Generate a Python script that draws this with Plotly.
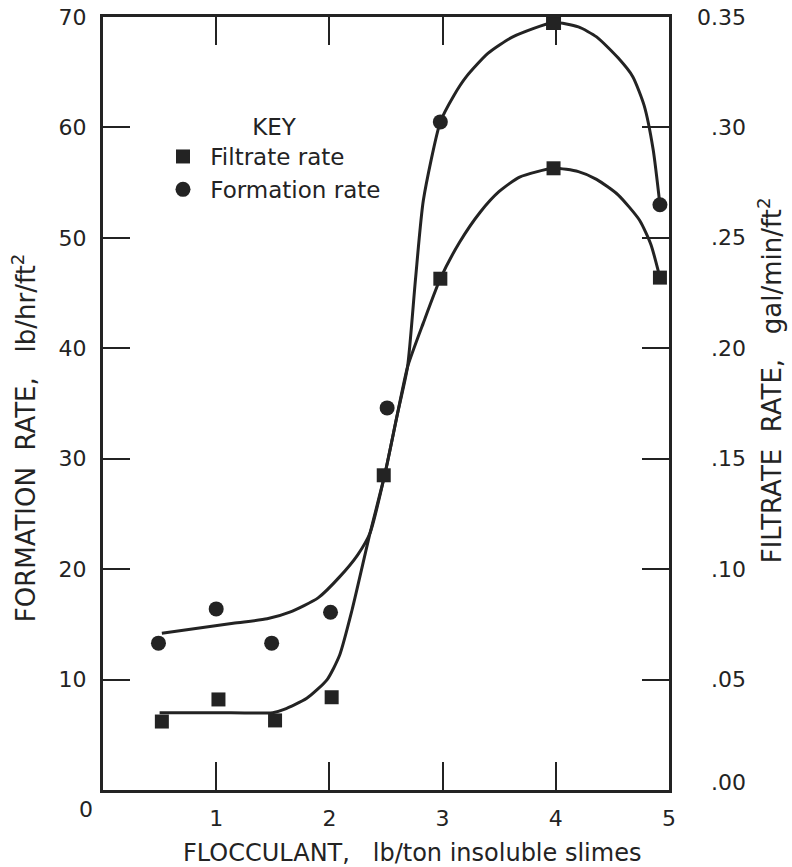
import plotly.graph_objects as go

# ---- data ----
flocculant_filtrate = [0.52, 1.02, 1.52, 2.02, 2.48, 2.98, 3.98, 4.92]
filtrate_rate = [6.2, 8.2, 6.3, 8.4, 28.5, 46.3, 56.3, 46.4]          # in left-axis units (x200 -> gal/min/ft2)

flocculant_formation = [0.49, 1.0, 1.49, 2.01, 2.51, 2.98, 3.98, 4.92]
formation_rate = [13.3, 16.4, 13.3, 16.1, 34.6, 60.5, 69.5, 53.0]
formation_symbols = ["circle", "circle", "circle", "circle", "circle", "circle", "square", "circle"]

# hand-drawn smooth curves
filtrate_curve_x = [0.5, 1.0, 1.5, 1.6, 1.8, 1.98, 2.09, 2.2, 2.36, 2.49, 2.6, 2.69, 2.83, 2.98, 3.15, 3.33, 3.5, 3.68, 3.98, 4.2, 4.36, 4.55, 4.74, 4.84, 4.92]
filtrate_curve_y = [7.0, 7.0, 7.0, 7.3, 8.3, 10.0, 12.2, 16.3, 23.3, 28.6, 34.0, 38.3, 42.3, 46.3, 49.6, 52.3, 54.2, 55.5, 56.3, 56.0, 55.3, 53.9, 51.6, 49.4, 46.4]

formation_curve_x = [0.52, 1.15, 1.45, 1.65, 1.9, 2.09, 2.25, 2.36, 2.49, 2.6, 2.69, 2.76, 2.83, 2.98, 3.1, 3.21, 3.4, 3.62, 3.98, 4.2, 4.36, 4.55, 4.68, 4.78, 4.86, 4.92]
formation_curve_y = [14.2, 15.1, 15.5, 16.1, 17.4, 19.3, 21.3, 23.3, 28.6, 34.0, 38.3, 46.2, 53.4, 60.5, 62.9, 64.6, 66.7, 68.2, 69.5, 69.1, 68.2, 66.3, 64.6, 62.0, 58.0, 53.0]

x_tick_vals = [1, 2, 3, 4, 5]
x_tick_text = ["1", "2", "3", "4", "5"]
left_tick_vals = [10, 20, 30, 40, 50, 60, 70]
left_tick_text = ["10", "20", "30", "40", "50", "60", "70"]
right_tick_vals = [0.00, 0.05, 0.10, 0.15, 0.20, 0.25, 0.30, 0.35]
right_tick_text = [".00", ".05", ".10", ".15", ".20", ".25", ".30", "0.35"]

INK = "#232323"
FONT = "DejaVu Sans"

fig = go.Figure()

fig.add_trace(go.Scatter(x=filtrate_curve_x, y=filtrate_curve_y, mode="lines",
                         line=dict(color=INK, width=3, shape="spline", smoothing=0.6),
                         showlegend=False, hoverinfo="skip"))
fig.add_trace(go.Scatter(x=formation_curve_x, y=formation_curve_y, mode="lines",
                         line=dict(color=INK, width=3, shape="spline", smoothing=0.6),
                         showlegend=False, hoverinfo="skip"))

fig.add_trace(go.Scatter(x=flocculant_filtrate, y=filtrate_rate, mode="markers",
                         name=" Filtrate rate",
                         marker=dict(symbol="square", size=14, color=INK)))
fig.add_trace(go.Scatter(x=flocculant_formation, y=formation_rate, mode="markers",
                         name=" Formation rate",
                         marker=dict(symbol=formation_symbols, size=15, color=INK)))

# invisible trace on the right axis so that it is drawn
fig.add_trace(go.Scatter(x=[0], y=[0], yaxis="y2", mode="markers",
                         marker=dict(opacity=0), showlegend=False, hoverinfo="skip"))

annotations = []
# right axis labels, right aligned
for v, t in zip(right_tick_vals, right_tick_text):
    annotations.append(dict(x=1, xref="paper", xshift=79, y=v, yref="y2",
                            yshift=8 if v == 0 else 0,
                            text=t, showarrow=False, xanchor="right", yanchor="middle",
                            font=dict(family=FONT, size=22, color=INK)))
# "0" at the origin
annotations.append(dict(x=0, xref="x", xshift=-17, y=0, yref="paper", yshift=-19,
                        text="0", showarrow=False, xanchor="center", yanchor="middle",
                        font=dict(family=FONT, size=22, color=INK)))
# axis titles
annotations.append(dict(x=0.546, xref="paper", y=0, yref="paper", yshift=-63,
                        text="FLOCCULANT,   lb/ton insoluble slimes", showarrow=False,
                        xanchor="center", yanchor="middle",
                        font=dict(family=FONT, size=24, color=INK)))
annotations.append(dict(x=0, xref="paper", xshift=-79, y=0.455, yref="paper",
                        text="FORMATION  RATE,   lb/hr/ft<sup>2</sup>", showarrow=False,
                        textangle=-90, xanchor="center", yanchor="middle",
                        font=dict(family=FONT, size=26, color=INK)))
annotations.append(dict(x=1, xref="paper", xshift=101, y=0.53, yref="paper",
                        text="FILTRATE  RATE,   gal/min/ft<sup>2</sup>", showarrow=False,
                        textangle=-90, xanchor="center", yanchor="middle",
                        font=dict(family=FONT, size=26, color=INK)))

fig.update_layout(
    width=792, height=867,
    margin=dict(l=103, r=123, t=17, b=77, autoexpand=False),
    paper_bgcolor="white", plot_bgcolor="white",
    font=dict(family=FONT, size=22, color=INK),
    xaxis=dict(range=[0, 5], showgrid=False, zeroline=False, automargin=False,
               showline=True, linewidth=3, linecolor=INK, mirror="ticks",
               ticks="inside", ticklen=28, tickwidth=2, tickcolor=INK,
               tickvals=x_tick_vals, ticktext=x_tick_text, ticklabelstandoff=7,
               tickfont=dict(family=FONT, size=22, color=INK)),
    yaxis=dict(range=[0, 70], showgrid=False, zeroline=False, automargin=False,
               showline=True, linewidth=3, linecolor=INK, mirror=True,
               ticks="inside", ticklen=27, tickwidth=2, tickcolor=INK,
               tickvals=left_tick_vals, ticktext=left_tick_text, ticklabelstandoff=9,
               tickfont=dict(family=FONT, size=22, color=INK)),
    yaxis2=dict(range=[0, 0.35], overlaying="y", side="right", showgrid=False,
                zeroline=False, showline=False, automargin=False,
                ticks="inside", ticklen=27, tickwidth=2, tickcolor=INK,
                tickvals=right_tick_vals[1:-1], showticklabels=False),
    legend=dict(x=0.106, y=0.886, xanchor="left", yanchor="top",
                bgcolor="rgba(0,0,0,0)", tracegroupgap=0,
                font=dict(family=FONT, size=23, color=INK),
                title=dict(text="KEY", side="top center",
                           font=dict(family=FONT, size=23, color=INK))),
    annotations=annotations,
    showlegend=True,
)

fig.write_html("out.html", config={"displayModeBar": False})

# remove the default page margin so the figure sits at the window's top-left corner
with open("out.html", "r", encoding="utf-8") as f:
    html = f.read()
html = html.replace("<head>", "<head><style>html,body{margin:0;padding:0;}</style>", 1)
with open("out.html", "w", encoding="utf-8") as f:
    f.write(html)
